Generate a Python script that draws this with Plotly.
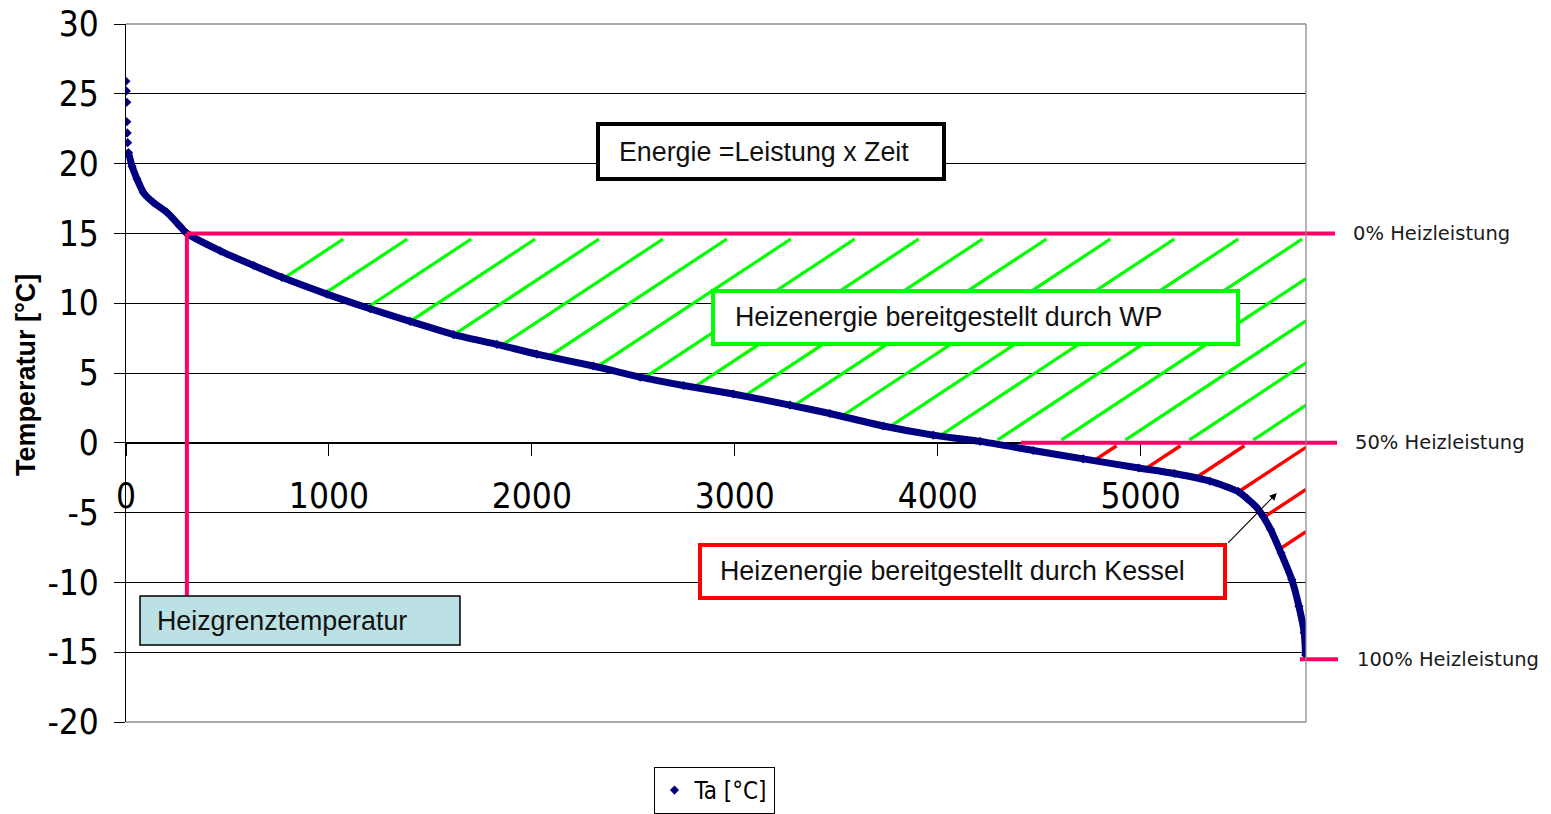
import numpy as np
import plotly.graph_objects as go

# Geordnete Jahresdauerlinie der Außentemperatur (Stunden vs. °C)
stunden = [0, 2, 4, 4, 6, 8, 12, 30, 54, 87, 136, 202, 267, 300, 464, 629, 768, 990,
           1203, 1400, 1614, 1828, 2025, 2303, 2534, 2747, 2993, 3272, 3469, 3732,
           3978, 4209, 4471, 4717, 4991, 5167, 5342, 5482, 5525, 5570, 5605, 5640, 5692,
           5745, 5780, 5806, 5813]
temperatur = [25.9, 25.2, 24.4, 23.0, 22.2, 21.5, 20.8, 19.8, 18.9, 17.9, 17.2, 16.5,
              15.5, 15.0, 13.75, 12.7, 11.85, 10.65, 9.6, 8.7, 7.75, 7.05, 6.35, 5.5, 4.7,
              4.1, 3.5, 2.7, 2.1, 1.2, 0.55, 0.1, -0.55, -1.15, -1.8, -2.2, -2.75, -3.5,
              -4.0, -4.6, -5.3, -6.2, -7.9, -9.8, -11.7, -13.6, -15.2]

x_ticks = [0, 1000, 2000, 3000, 4000, 5000]
x_tick_labels = ["0", "1000", "2000", "3000", "4000", "5000"]
y_ticks = [-20, -15, -10, -5, 0, 5, 10, 15, 20, 25, 30]
y_tick_labels = ["-20", "-15", "-10", "-5", "0", "5", "10", "15", "20", "25", "30"]

# Heizgrenze und Leistungsstufen
heizgrenze_h = 300
heizgrenze_t = 15
bivalenz_t = 0
bivalenz_start_h = 4410
norm_t = -15.5
norm_start_h = 5785
leistung_labels = ["0% Heizleistung", "50% Heizleistung", "100% Heizleistung"]
leistung_t = [heizgrenze_t, bivalenz_t, norm_t]

# Geometrie der Seite
W, H = 1551, 814
L, R, T, B = 126, 245, 24, 92
PW, PH = W - L - R, H - T - B
XMAX = 5815
YMIN, YMAX = -20, 30

NARROW = "DejaVu Sans Condensed, Liberation Sans Narrow, Arial Narrow, Liberation Sans"
SANS = "Liberation Sans, Arial, sans-serif"
PINK = "#FF0066"
NAVY = "#000080"


def paper_x(px):
    return (px - L) / PW


def paper_y(py):
    return (H - B - py) / PH


def hours_to_paper(h):
    return h / XMAX


# Schraffur: parallele Linien zwischen Dauerlinie und 15 °C bzw. 0 °C
hatch_step = 315          # Stunden zwischen zwei Linien
hatch_slope = 0.00959     # °C pro Stunde
hatch_top = 14.6
hatch_first = 1071
green_floor = 0.21
red_ceiling = -0.21
min_len = 80

h_arr = np.array(stunden[13:], dtype=float)
t_arr = np.array(temperatur[13:], dtype=float)


def curve_at(h):
    return np.interp(h, h_arr, t_arr)


def root(f, lo, hi):
    for _ in range(60):
        mid = 0.5 * (lo + hi)
        if f(mid) > 0:
            hi = mid
        else:
            lo = mid
    return 0.5 * (lo + hi)


green_x, green_y, red_x, red_y = [], [], [], []
for k in range(40):
    xt = hatch_first + k * hatch_step

    def line(h, xt=xt):
        return hatch_top - hatch_slope * (xt - h)

    # grüner Abschnitt (Wärmepumpe)
    xu = min(xt, XMAX)
    lower = lambda h: max(curve_at(h), green_floor)
    if line(xu) > lower(xu):
        xl = root(lambda h: line(h) - lower(h), heizgrenze_h, xu)
        green_x += [xl, xu, None]
        green_y += [line(xl), line(xu), None]
    # roter Abschnitt (Kessel)
    xr = min(xt - (hatch_top - red_ceiling) / hatch_slope, XMAX)
    if xr > heizgrenze_h and line(xr) > curve_at(xr):
        xl = root(lambda h: line(h) - curve_at(h), heizgrenze_h, xr)
        if xr - xl >= min_len:
            red_x += [xl, xr, None]
            red_y += [line(xl), line(xr), None]

fig = go.Figure()
fig.add_trace(go.Scatter(x=green_x, y=green_y, mode="lines",
                         line=dict(color="#00FF00", width=3.2),
                         hoverinfo="skip", showlegend=False))
fig.add_trace(go.Scatter(x=red_x, y=red_y, mode="lines",
                         line=dict(color="#FF0000", width=3.4),
                         hoverinfo="skip", showlegend=False))
fig.add_trace(go.Scatter(x=stunden[6:], y=temperatur[6:], mode="lines",
                         line=dict(color=NAVY, width=7, shape="spline", smoothing=0.6),
                         hoverinfo="skip", showlegend=False))
fig.add_trace(go.Scatter(x=stunden, y=temperatur, mode="markers", name="Ta [°C]",
                         marker=dict(symbol="diamond", color=NAVY, size=7)))

shapes = []
# Heizgrenze / Leistungslinien
shapes.append(dict(type="line", xref="x", yref="y", x0=heizgrenze_h, x1=heizgrenze_h,
                   y0=heizgrenze_t, y1=-11.2, line=dict(color=PINK, width=4), layer="above"))
shapes.append(dict(type="line", xref="paper", yref="y", x0=hours_to_paper(heizgrenze_h),
                   x1=paper_x(1335), y0=heizgrenze_t, y1=heizgrenze_t,
                   line=dict(color=PINK, width=4), layer="above"))
shapes.append(dict(type="line", xref="paper", yref="y", x0=hours_to_paper(bivalenz_start_h),
                   x1=paper_x(1337), y0=bivalenz_t, y1=bivalenz_t,
                   line=dict(color=PINK, width=4), layer="above"))
shapes.append(dict(type="line", xref="paper", yref="y", x0=hours_to_paper(norm_start_h),
                   x1=paper_x(1338), y0=norm_t, y1=norm_t,
                   line=dict(color=PINK, width=4), layer="above"))
# Rahmen der Zeichenfläche
for x0, y0, x1, y1 in [(0, 1, 1, 1), (1, 0, 1, 1), (0, 0, 1, 0)]:
    shapes.append(dict(type="line", xref="paper", yref="paper", x0=x0, y0=y0, x1=x1, y1=y1,
                       line=dict(color="#8C8C8C", width=1.3), layer="above"))

# Textkästen: (links, oben, rechts, unten) in Pixeln, Rahmenfarbe, Rahmenbreite, Füllung
boxes = [
    ((598, 124, 944, 179), "#000000", 4, "white"),
    ((713, 291, 1238, 344), "#00FF00", 4, "white"),
    ((700, 545, 1225, 598), "#FF0000", 4, "white"),
    ((140, 596, 460, 645), "#000000", 1.5, "#BCE1E4"),
]
for (x0, y0, x1, y1), col, lw, fill in boxes:
    shapes.append(dict(type="rect", xref="paper", yref="paper",
                       x0=paper_x(x0), x1=paper_x(x1), y0=paper_y(y1), y1=paper_y(y0),
                       line=dict(color=col, width=lw), fillcolor=fill, layer="above"))

annotations = []
box_texts = [
    ("Energie =Leistung x Zeit", 617, 152),
    ("Heizenergie bereitgestellt durch WP", 733, 317),
    ("Heizenergie bereitgestellt durch Kessel", 718, 571),
    ("Heizgrenztemperatur", 155, 621),
]
for txt, px, py in box_texts:
    annotations.append(dict(text=txt, xref="paper", yref="paper", x=paper_x(px), y=paper_y(py),
                            xanchor="left", yanchor="middle", showarrow=False,
                            font=dict(family=SANS, size=26.8, color="#111111")))

label_px = [1351, 1353, 1355]
for txt, t, px in zip(leistung_labels, leistung_t, label_px):
    annotations.append(dict(text=txt, xref="paper", yref="y", x=paper_x(px), y=t,
                            xanchor="left", yanchor="middle", showarrow=False,
                            font=dict(family="DejaVu Sans, Verdana, sans-serif", size=19.5,
                                      color="#1A1A1A")))

# Pfeil vom Kessel-Kasten zur Schraffur
annotations.append(dict(text="", xref="x", yref="y", x=5671, y=-3.6, axref="x", ayref="y",
                        ax=5425, ay=-7.26, showarrow=True, arrowhead=2, arrowsize=1.3,
                        arrowwidth=1.1, arrowcolor="black"))

# Achsentitel
annotations.append(dict(text="<b>Temperatur [°C]</b>", xref="paper", yref="paper",
                        x=paper_x(26), y=paper_y(375), xanchor="center", yanchor="middle",
                        textangle=-90, showarrow=False,
                        font=dict(family=SANS, size=27, color="black")))

fig.update_layout(
    width=W, height=H, autosize=False,
    margin=dict(l=L, r=R, t=T, b=B, pad=0, autoexpand=False),
    paper_bgcolor="white", plot_bgcolor="white",
    shapes=shapes, annotations=annotations,
    showlegend=True,
    legend=dict(orientation="h", xref="container", yref="container",
                x=714 / W, xanchor="center", y=(H - 767) / H, yanchor="top",
                bordercolor="black", borderwidth=1, bgcolor="white",
                font=dict(family=NARROW, size=24, color="black")),
    xaxis=dict(range=[0, XMAX], tickvals=x_ticks, ticktext=x_tick_labels,
               anchor="free", position=(0 - YMIN) / (YMAX - YMIN),
               showline=True, linecolor="black", linewidth=1.3,
               ticks="outside", ticklen=12, tickwidth=1.3, tickcolor="black",
               showgrid=False, zeroline=False, ticklabelstandoff=10,
               tickfont=dict(family=NARROW, size=35, color="black")),
    yaxis=dict(range=[YMIN, YMAX], tickvals=y_ticks, ticktext=y_tick_labels,
               showline=True, linecolor="black", linewidth=1.3,
               ticks="outside", ticklen=11, tickwidth=1.3, tickcolor="black",
               showgrid=True, gridcolor="black", gridwidth=1.3, zeroline=False,
               ticklabelstandoff=8,
               tickfont=dict(family=NARROW, size=35, color="black")),
)

fig.write_html("out.html")
